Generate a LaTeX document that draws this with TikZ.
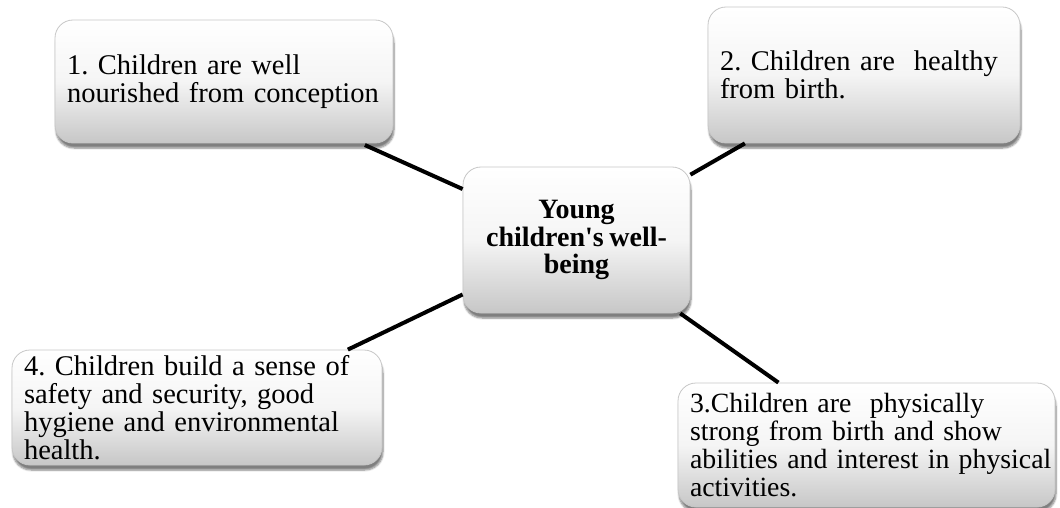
\documentclass[tikz,border=0pt]{standalone}
\usepackage{fontspec}
\setmainfont{Liberation Serif}[Ligatures=TeXOff, WordSpace=0.8]
\usetikzlibrary{shadows.blur}
\frenchspacing
\begin{document}
\begin{tikzpicture}[x=1pt,y=1pt,
  card/.style={rectangle, rounded corners=18pt, draw=black!22, line width=0.8pt,
    top color=white, bottom color=black!22, middle color=white!96!black,
    blur shadow={shadow xshift=1pt, shadow yshift=-5pt, shadow opacity=50, shadow blur steps=6},
    font=\fontsize{28.5}{28}\selectfont, inner xsep=12pt, inner ysep=0pt},
  leaf/.style={card, align=left, execute at begin node={\hyphenpenalty=10000}},
  hub/.style={card, align=center, font=\fontsize{28}{27.5}\selectfont\bfseries},
  link/.style={line width=4pt, black}]
  \useasboundingbox (0,0) rectangle (1060,-508);

  % central topic
  \node[hub, minimum width=227pt, minimum height=146pt] (c) at (576.5,-240)
    {Young\\children's well-\\being};

  % four outcomes around it
  \node[leaf, minimum width=338pt, minimum height=123pt, text width=314pt] (b1) at (224,-81.5)
    {1. Children are well\\nourished from conception};
  \node[leaf, minimum width=312pt, minimum height=136pt, text width=288pt] (b2) at (864,-75)
    {2. Children are~ healthy\\from birth.};
  \node[leaf, minimum width=377pt, minimum height=124pt, text width=353pt,
        font=\fontsize{27.8}{28}\selectfont] (b3) at (866.5,-445)
    {3.Children are~ physically\\strong from birth and show\\\mbox{abilities and interest in physical}\\activities.};
  \node[leaf, minimum width=370pt, minimum height=115pt, text width=346pt] (b4) at (197,-407.5)
    {4. Children build a sense of\\safety and security, good\\hygiene and environmental\\health.};

  % connectors from the hub
  \draw[link, shorten <=4pt] (b1) -- (c);
  \draw[link] (c) -- (b2);
  \draw[link] (c) -- (b3);
  \draw[link] (c) -- (b4.21);
\end{tikzpicture}
\end{document}
